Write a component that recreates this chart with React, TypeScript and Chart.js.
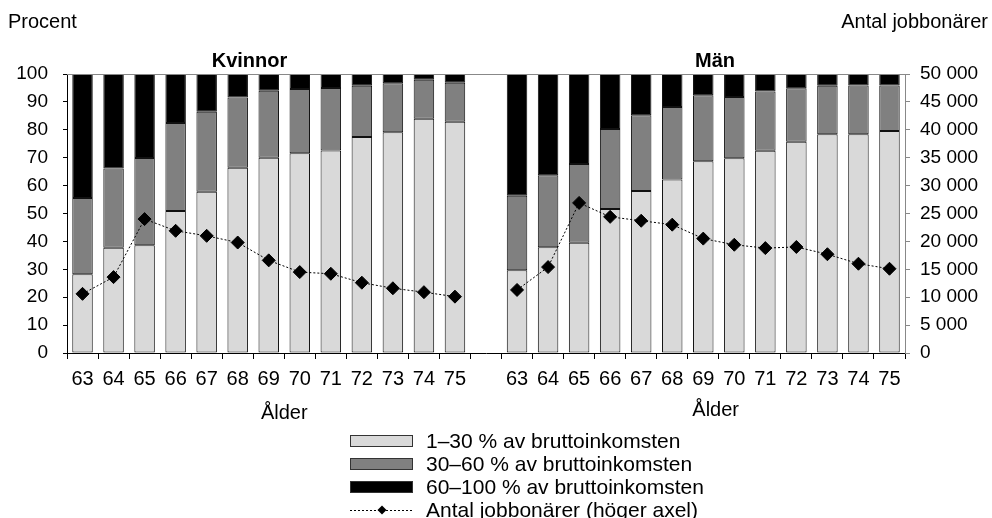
import React, { useEffect, useRef } from 'react';
import { Chart, registerables } from 'chart.js';

Chart.register(...registerables);

const FONT = "'Liberation Sans', Arial, Helvetica, sans-serif";

const ages = ['63', '64', '65', '66', '67', '68', '69', '70', '71', '72', '73', '74', '75'];
const categories = [...ages, '', ...ages];

// Kvinnor – share of gross income (percent)
const womenLow = [28.2, 37.7, 38.6, 50.9, 57.8, 66.4, 70.0, 71.6, 72.6, 77.4, 79.1, 84.0, 82.9];
const womenMid = [27.4, 28.4, 31.3, 31.5, 28.7, 25.2, 24.0, 23.0, 22.4, 18.4, 17.6, 13.9, 14.0];
const womenHigh = [44.4, 33.9, 30.1, 17.6, 13.5, 8.4, 6.0, 5.4, 5.0, 4.2, 3.3, 2.1, 3.1];
// Män
const menLow = [29.7, 37.9, 39.5, 51.6, 58.1, 62.2, 68.7, 69.8, 72.5, 75.7, 78.4, 78.4, 79.6];
const menMid = [26.7, 25.8, 28.2, 28.7, 27.1, 26.0, 23.7, 22.0, 21.2, 19.2, 17.4, 17.5, 16.3];
const menHigh = [43.6, 36.3, 32.3, 19.7, 14.8, 11.8, 7.6, 8.2, 6.3, 5.1, 4.2, 4.1, 4.1];
// Antal jobbonärer (right axis)
const womenCount = [10600, 13600, 24000, 21900, 21000, 19800, 16600, 14500, 14200, 12600, 11600, 10900, 10100];
const menCount = [11300, 15400, 26900, 24400, 23700, 23000, 20500, 19400, 18800, 19000, 17700, 16000, 15100];

const seriesLabels = [
  '1–30 % av bruttoinkomsten',
  '30–60 % av bruttoinkomsten',
  '60–100 % av bruttoinkomsten',
  'Antal jobbonärer (höger axel)',
];
const groupTitles = ['Kvinnor', 'Män'];
const axisTitleX = 'Ålder';
const leftAxisTitle = 'Procent';
const rightAxisTitle = 'Antal jobbonärer';

const join = (a: (number | null)[], b: (number | null)[]) => [...a, null, ...b];

const fmt = (v: number) => String(v).replace(/\B(?=(\d{3})+(?!\d))/g, ' ');

const annotations = {
  id: 'annotations',
  afterDraw(chart: any) {
    const { ctx, chartArea, scales } = chart;
    const x = scales.x;
    ctx.save();
    // top border of plot area
    ctx.strokeStyle = '#888';
    ctx.lineWidth = 1;
    ctx.beginPath();
    ctx.moveTo(chartArea.left, chartArea.top + 0.5);
    ctx.lineTo(chartArea.right, chartArea.top + 0.5);
    ctx.stroke();

    ctx.fillStyle = '#000';
    ctx.textBaseline = 'middle';
    // axis titles
    ctx.font = `20px ${FONT}`;
    ctx.textAlign = 'left';
    ctx.fillText(leftAxisTitle, 8, 22);
    ctx.textAlign = 'right';
    ctx.fillText(rightAxisTitle, chart.width - 4, 22);

    // group titles
    ctx.font = `bold 20px ${FONT}`;
    ctx.textAlign = 'center';
    ctx.fillText(groupTitles[0], x.getPixelForValue(5.38), 61);
    ctx.fillText(groupTitles[1], x.getPixelForValue(20.38), 61);

    // Ålder
    ctx.font = `20px ${FONT}`;
    ctx.fillText(axisTitleX, x.getPixelForValue(6.5), 413);
    ctx.fillText(axisTitleX, x.getPixelForValue(20.4), 410);

    // legend
    const colors = ['#d9d9d9', '#808080', '#000000'];
    const bx = 350;
    const bw = 63;
    const tx = 426;
    const y0 = 441;
    const dy = 23;
    ctx.font = `21px ${FONT}`;
    ctx.textAlign = 'left';
    for (let i = 0; i < 3; i++) {
      const cy = y0 + i * dy;
      ctx.fillStyle = colors[i];
      ctx.fillRect(bx, cy - 6, bw, 12);
      ctx.strokeStyle = '#333';
      ctx.lineWidth = 1;
      ctx.strokeRect(bx + 0.5, cy - 5.5, bw - 1, 11);
      ctx.fillStyle = '#000';
      ctx.fillText(seriesLabels[i], tx, cy + 1);
    }
    const ly = y0 + 3 * dy;
    ctx.strokeStyle = '#000';
    ctx.setLineDash([2, 2]);
    ctx.beginPath();
    ctx.moveTo(bx, ly + 0.5);
    ctx.lineTo(bx + bw, ly + 0.5);
    ctx.stroke();
    ctx.setLineDash([]);
    const dx = bx + 32;
    ctx.fillStyle = '#000';
    ctx.beginPath();
    ctx.moveTo(dx, ly - 4.5);
    ctx.lineTo(dx + 4.5, ly);
    ctx.lineTo(dx, ly + 4.5);
    ctx.lineTo(dx - 4.5, ly);
    ctx.closePath();
    ctx.fill();
    ctx.fillText(seriesLabels[3], tx, ly + 1);
    ctx.restore();
  },
};

export default function App() {
  const ref = useRef<HTMLCanvasElement | null>(null);

  useEffect(() => {
    document.body.style.margin = '0';
    const canvas = ref.current;
    if (!canvas) return;
    const barCommon = {
      type: 'bar' as const,
      yAxisID: 'y',
      stack: 's',
      borderColor: '#111',
      borderWidth: 1,
      borderSkipped: false,
      barPercentage: 0.66,
      categoryPercentage: 1,
      order: 1,
    };
    const chart = new Chart(canvas, {
      type: 'bar',
      data: {
        labels: categories,
        datasets: [
          {
            ...barCommon,
            label: seriesLabels[0],
            data: join(womenLow, menLow),
            backgroundColor: '#d9d9d9',
          },
          {
            ...barCommon,
            label: seriesLabels[1],
            data: join(womenMid, menMid),
            backgroundColor: '#808080',
          },
          {
            ...barCommon,
            label: seriesLabels[2],
            data: join(womenHigh, menHigh),
            backgroundColor: '#000000',
          },
          {
            type: 'line' as const,
            label: seriesLabels[3],
            yAxisID: 'y1',
            data: join(womenCount, menCount),
            borderColor: '#000',
            borderWidth: 1,
            borderDash: [2, 2],
            pointStyle: 'rectRot',
            pointRadius: 6.5,
            pointBackgroundColor: '#000',
            pointBorderColor: '#000',
            spanGaps: false,
            tension: 0,
            order: 0,
          } as any,
        ],
      },
      options: {
        responsive: false,
        animation: false,
        devicePixelRatio: 1,
        layout: { padding: { top: 74, left: 0, right: 0, bottom: 125 } },
        plugins: {
          legend: { display: false },
          tooltip: { enabled: false },
          title: { display: false },
        },
        scales: {
          x: {
            stacked: true,
            offset: true,
            grid: {
              display: true,
              offset: true,
              drawOnChartArea: false,
              drawTicks: true,
              tickLength: 6,
              color: '#000',
            },
            border: { display: true, color: '#000', width: 1 },
            ticks: {
              color: '#000',
              font: { family: FONT, size: 20 },
              padding: 8,
              maxRotation: 0,
              autoSkip: false,
            },
            afterFit: (s: any) => {
              s.height = 40;
            },
          },
          y: {
            stacked: true,
            position: 'left',
            min: 0,
            max: 100,
            grid: {
              drawOnChartArea: false,
              drawTicks: true,
              tickLength: 4,
              color: '#000',
            },
            border: { display: true, color: '#000', width: 1 },
            ticks: {
              stepSize: 10,
              color: '#000',
              font: { family: FONT, size: 19 },
              padding: 15,
            },
            afterFit: (s: any) => {
              s.width = 67;
            },
          },
          y1: {
            position: 'right',
            min: 0,
            max: 50000,
            grid: {
              drawOnChartArea: false,
              drawTicks: true,
              tickLength: 5,
              color: '#888',
            },
            border: { display: true, color: '#888', width: 1 },
            ticks: {
              stepSize: 5000,
              color: '#000',
              font: { family: FONT, size: 19 },
              padding: 10,
              callback: (v: any) => fmt(Number(v)),
            },
            afterFit: (s: any) => {
              s.width = 87;
            },
          },
        },
      },
      plugins: [annotations],
    } as any);
    return () => chart.destroy();
  }, []);

  return (
    <div style={{ width: 992, height: 518 }}>
      <canvas ref={ref} width={992} height={518} style={{ display: 'block' }} />
    </div>
  );
}
